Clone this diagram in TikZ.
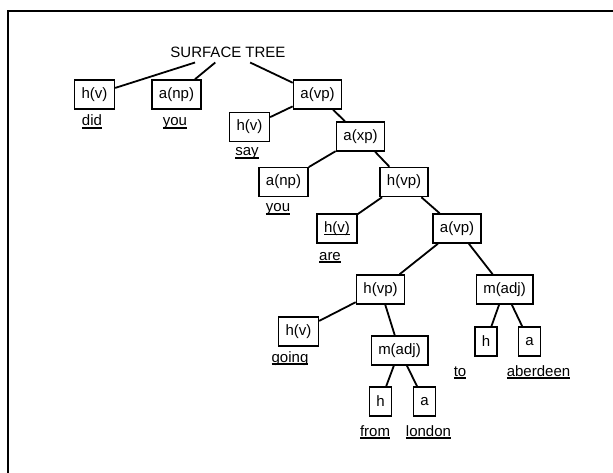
\documentclass[tikz,border=0pt]{standalone}
\usepackage{fontspec}
\setmainfont{Liberation Sans}
\usepackage{tikz}
\usetikzlibrary{positioning}

% underlined word, line close under the baseline
\newcommand{\uword}[1]{\sbox0{#1}\rlap{\rule[-2.6pt]{\wd0}{1.3pt}}\usebox0}

\begin{document}
\begin{tikzpicture}[
    x=1pt, y=-1pt, % pixel grid, y runs down
    node font=\fontsize{15}{18}\selectfont,
    cat/.style={draw=black, line width=1.5pt, minimum height=29pt, inner xsep=7pt, inner ysep=2pt},
    word/.style={anchor=base, inner sep=1pt},
    edge/.style={line width=1.8pt}
]
  \useasboundingbox (0,0) rectangle (613,473);

  % --- FRAME ---
  \draw[line width=1.5pt] (8,473) |- (613,11);

  % --- ROOT ---
  \node (title) at (228,52) {SURFACE TREE};

  % --- FIRST LEVEL ---
  \node[cat] (hv1) at (94.5,94.5) {h(v)};
  \node[cat] (anp1) at (176.5,94.5) {a(np)};
  \node[cat] (avp1) at (317.5,94.5) {a(vp)};
  \node[word] (did) at (92,126) {\uword{did}};
  \node[word] (you1) at (175,126) {\uword{you}};

  % --- say / you ---
  \node[cat] (hv2) at (249.5,127) {h(v)};
  \node[cat] (axp) at (360.5,136.5) {a(xp)};
  \node[cat] (anp2) at (283.5,182) {a(np)};
  \node[cat] (hvp1) at (404,182) {h(vp)};
  \node[word] (say) at (247,156) {\uword{say}};
  \node[word] (you2) at (278,212) {\uword{you}};

  % --- are ---
  \node[cat] (hv3) at (337,228.5) {\uword{h(v)}};
  \node[cat] (avp2) at (457,228.5) {a(vp)};
  \node[word] (are) at (330,260) {\uword{are}};

  % --- going to aberdeen ---
  \node[cat] (hvp2) at (380.5,289.5) {h(vp)};
  \node[cat] (madj1) at (504.5,289.5) {m(adj)};
  \node[cat] (hv4) at (298.5,331.5) {h(v)};
  \node[cat] (madj2) at (399.5,350.5) {m(adj)};
  \node[cat] (h1) at (486,341.5) {h};
  \node[cat] (a1) at (529.5,341.5) {a};
  \node[word] (going) at (290,362) {\uword{going}};
  \node[word] (to) at (460,376) {\uword{to}};
  \node[word] (aberdeen) at (538.5,376) {\uword{aberdeen}};

  % --- from london ---
  \node[cat] (h2) at (380.5,401.5) {h};
  \node[cat] (a2) at (424.5,401.5) {a};
  \node[word] (from) at (375,436) {\uword{from}};
  \node[word] (london) at (428.5,436) {\uword{london}};

  % Branches
  \foreach \p/\c in {title/hv1, title/anp1, title/avp1,
                     avp1/hv2, avp1/axp, axp/anp2, axp/hvp1,
                     hvp1/hv3, hvp1/avp2, avp2/hvp2, avp2/madj1,
                     hvp2/hv4, hvp2/madj2, madj1/h1, madj1/a1,
                     madj2/h2, madj2/a2}
    \draw[edge] (\p) -- (\c);

\end{tikzpicture}
\end{document}
